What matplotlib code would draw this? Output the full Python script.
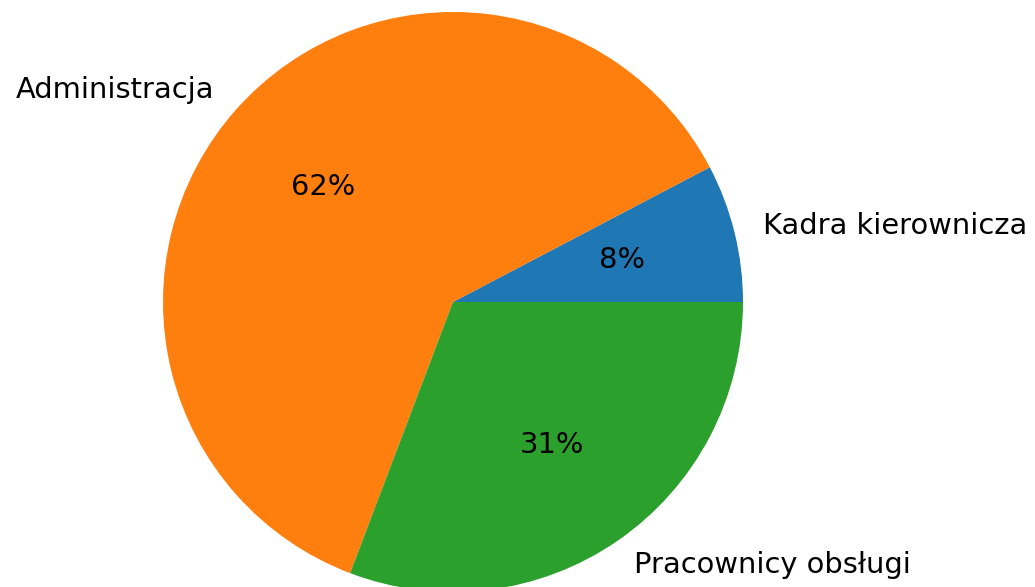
import matplotlib
matplotlib.use("Agg")
import matplotlib.pyplot as plt

labels = ["Kadra kierownicza", "Administracja", "Pracownicy obsługi"]
values = [5, 40, 20]
colors = ["#1f77b4", "#ff7f0e", "#2ca02c"]

plt.rcParams["font.family"] = ["DejaVu Sans"]
plt.rcParams["font.size"] = 20.8

fig = plt.figure(figsize=(10.35, 5.87), dpi=100)
W, H = 1035, 587
cx, cy, r = 453, 302, 290
half = 1.25 * r
ax = fig.add_axes([(cx - half) / W, (H - cy - half) / H, 2 * half / W, 2 * half / H])
ax.pie(values, labels=labels, colors=colors, autopct="%1.0f%%")
ax.set_xlim(-1.25, 1.25)
ax.set_ylim(-1.25, 1.25)
fig.savefig("out.png", dpi=100)
